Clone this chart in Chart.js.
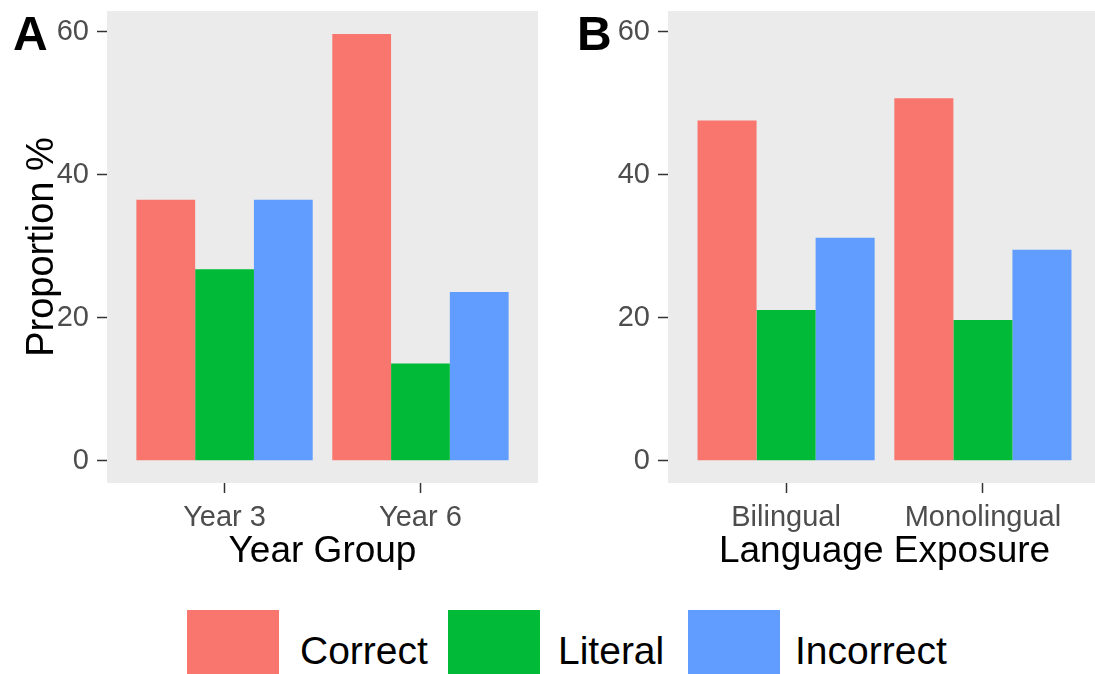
<!DOCTYPE html>
<html>
<head>
<meta charset="utf-8">
<script src="https://cdn.jsdelivr.net/npm/chart.js@4.4.1/dist/chart.umd.min.js"></script>
<style>
  html, body { margin: 0; padding: 0; background: #ffffff; }
  #page { position: relative; width: 1095px; height: 674px; overflow: hidden;
          font-family: "Liberation Sans", Arial, sans-serif; }
  #boxA { position: absolute; left: 0; top: 0; width: 555px; height: 600px; }
  #boxB { position: absolute; left: 560px; top: 0; width: 545px; height: 600px; }
  .key { position: absolute; top: 610px; width: 92px; height: 92px; }
  .keyText { position: absolute; top: 610px; font-size: 39px; line-height: 81px; color: #000; white-space: nowrap; }
</style>
</head>
<body>
<div id="page">
  <div id="boxA"><canvas id="chartA"></canvas></div>
  <div id="boxB"><canvas id="chartB"></canvas></div>
  <div id="legend"></div>
</div>
<script>
// Response categories and the two grouping factors
const responseTypes = ['Correct', 'Literal', 'Incorrect'];
const yearGroups = ['Year 3', 'Year 6'];
const exposureGroups = ['Bilingual', 'Monolingual'];

// Proportion (%) of each response type, panel A: by year group
const yearCorrect = [36.5, 59.7];
const yearLiteral = [26.8, 13.6];
const yearIncorrect = [36.5, 23.6];

// Proportion (%) of each response type, panel B: by language exposure
const exposureCorrect = [47.6, 50.7];
const exposureLiteral = [21.1, 19.7];
const exposureIncorrect = [31.2, 29.5];

// Y axis tick values
const yTicks = [0, 20, 40, 60];

// ggplot-style hue palette
const palette = ['#F8766D', '#00BA38', '#619CFF'];

const FONT = '"Liberation Sans", Arial, sans-serif';
Chart.defaults.font.family = FONT;

// Grey panel background behind the bars, plus the bold panel tag
function panelPlugin(tag, tagX) {
  return {
    id: 'panel' + tag,
    beforeDraw(chart) {
      const { ctx, chartArea: a } = chart;
      ctx.save();
      ctx.fillStyle = '#EBEBEB';
      ctx.fillRect(a.left, a.top, a.right - a.left, a.bottom - a.top);
      ctx.restore();
    },
    afterDraw(chart) {
      const ctx = chart.ctx;
      ctx.save();
      ctx.font = 'bold 48px ' + FONT;
      ctx.fillStyle = '#000000';
      ctx.textBaseline = 'alphabetic';
      ctx.textAlign = 'left';
      ctx.fillText(tag, tagX, 50);
      ctx.restore();
    }
  };
}

function makeDatasets(series) {
  return series.map((vals, i) => ({
    label: responseTypes[i],
    data: vals.map((v, j) => ({ x: j + 1, y: v })),
    backgroundColor: palette[i],
    borderWidth: 0,
    categoryPercentage: 0.9,
    barPercentage: 1.0
  }));
}

function makeChart(canvasId, groups, series, opts) {
  return new Chart(document.getElementById(canvasId), {
    type: 'bar',
    data: { datasets: makeDatasets(series) },
    options: {
      responsive: true,
      maintainAspectRatio: false,
      animation: false,
      layout: { padding: { left: 0, top: 11, right: opts.padRight, bottom: 0 } },
      plugins: { legend: { display: false }, tooltip: { enabled: false } },
      scales: {
        x: {
          type: 'linear',
          min: 0.4,
          max: 2.6,
          offset: false,
          afterBuildTicks: (axis) => { axis.ticks = groups.map((g, i) => ({ value: i + 1 })); },
          afterFit: (axis) => { axis.height = 117; axis.paddingLeft = 0; axis.paddingRight = 0; },
          grid: { offset: false, drawOnChartArea: false, drawTicks: true, tickLength: 10, tickColor: '#333333', tickWidth: 1.5 },
          border: { display: false },
          ticks: {
            padding: 8,
            color: '#4D4D4D',
            font: { size: 29 },
            maxRotation: 0,
            autoSkip: false,
            callback: (v) => groups[Math.round(v) - 1] || ''
          },
          title: {
            display: true,
            text: opts.xTitle,
            color: '#000000',
            font: { size: 37 },
            padding: { top: 0, bottom: 26 }
          }
        },
        y: {
          min: -3.1,
          max: 62.9,
          afterBuildTicks: (axis) => { axis.ticks = yTicks.map(v => ({ value: v })); },
          afterFit: (axis) => { axis.width = opts.yWidth; axis.paddingTop = 0; axis.paddingBottom = 0; },
          grid: { drawOnChartArea: false, drawTicks: true, tickLength: 10, tickColor: '#333333', tickWidth: 1.5 },
          border: { display: false },
          ticks: { padding: 8, color: '#4D4D4D', font: { size: 29 } },
          title: {
            display: !!opts.yTitle,
            text: opts.yTitle || '',
            color: '#000000',
            font: { size: 38 },
            padding: { top: 20, bottom: 0 }
          }
        }
      }
    },
    plugins: [panelPlugin(opts.tag, opts.tagX)]
  });
}

makeChart('chartA', yearGroups, [yearCorrect, yearLiteral, yearIncorrect],
  { xTitle: 'Year Group', yTitle: 'Proportion %', yWidth: 107, padRight: 17, tag: 'A', tagX: 13 });

makeChart('chartB', exposureGroups, [exposureCorrect, exposureLiteral, exposureIncorrect],
  { xTitle: 'Language Exposure', yTitle: null, yWidth: 108, padRight: 4, tag: 'B', tagX: 17 });

// Shared legend below both panels
const legend = document.getElementById('legend');
const keyLeft = [187, 448, 688];
const textLeft = [300, 558, 795];
responseTypes.forEach((name, i) => {
  const k = document.createElement('div');
  k.className = 'key';
  k.style.left = keyLeft[i] + 'px';
  k.style.background = palette[i];
  legend.appendChild(k);
  const t = document.createElement('div');
  t.className = 'keyText';
  t.style.left = textLeft[i] + 'px';
  t.textContent = name;
  legend.appendChild(t);
});
</script>
</body>
</html>
